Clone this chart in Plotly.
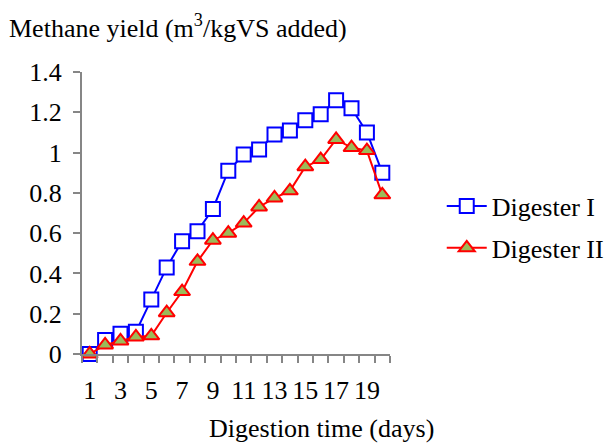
import plotly.graph_objects as go

days = list(range(1, 21))
digester_1 = [0.0, 0.07, 0.10, 0.11, 0.27, 0.43, 0.56, 0.61, 0.72, 0.91,
              0.99, 1.015, 1.09, 1.11, 1.16, 1.19, 1.26, 1.22, 1.10, 0.90]
digester_2 = [0.0, 0.045, 0.065, 0.085, 0.09, 0.205, 0.31, 0.46, 0.565, 0.60,
              0.65, 0.73, 0.775, 0.81, 0.93, 0.965, 1.065, 1.025, 1.01, 0.79]
x_tick_vals = [1, 3, 5, 7, 9, 11, 13, 15, 17, 19]
y_tick_vals = [0, 0.2, 0.4, 0.6, 0.8, 1.0, 1.2, 1.4]
y_tick_text = ["0", "0.2", "0.4", "0.6", "0.8", "1", "1.2", "1.4"]

FONT = "Liberation Serif"
F = dict(family=FONT, size=26, color="black")

fig = go.Figure()
fig.add_trace(go.Scatter(
    x=days, y=digester_1, name="Digester I", mode="lines+markers",
    legendgroup="a",
    line=dict(color="#0000FF", width=2),
    marker=dict(symbol="square", size=14, color="white",
                line=dict(color="#0000FF", width=2)),
    cliponaxis=False,
))
fig.add_trace(go.Scatter(
    x=days, y=digester_2, name="Digester II", mode="lines+markers",
    legendgroup="b",
    line=dict(color="#FF0000", width=2),
    marker=dict(symbol="triangle-up", size=14, color="#9BBB59",
                line=dict(color="#FF0000", width=2)),
    cliponaxis=False,
))

fig.update_layout(
    width=609, height=443,
    margin=dict(l=82, r=219, t=72, b=89, autoexpand=False),
    paper_bgcolor="white", plot_bgcolor="white",
    font=F,
    showlegend=True,
    legend=dict(x=1.168, y=0.45, xanchor="left", yanchor="middle",
                font=F, itemwidth=40, tracegroupgap=5,
                bgcolor="rgba(0,0,0,0)"),
    xaxis=dict(
        range=[0.5, 20.5], showgrid=False, zeroline=False,
        showline=True, linecolor="#868686", linewidth=2,
        tickmode="array", tickvals=x_tick_vals,
        ticktext=[str(v) for v in x_tick_vals],
        ticks="", ticklabelstandoff=12, tickfont=F,
        minor=dict(tickmode="linear", tick0=0.5, dtick=1, ticks="outside",
                   ticklen=7, tickcolor="#868686", tickwidth=1.5, showgrid=False),
    ),
    yaxis=dict(
        range=[0, 1.4], showgrid=False, zeroline=False,
        showline=True, linecolor="#868686", linewidth=2,
        tickmode="array", tickvals=y_tick_vals, ticktext=y_tick_text,
        ticks="outside", ticklen=7, tickcolor="#868686", tickwidth=1.5,
        ticklabelstandoff=6, tickfont=F,
    ),
    annotations=[
        dict(text="Methane yield (m<sup>3</sup>/kgVS added)",
             xref="paper", yref="paper", x=-0.245, y=1.16,
             xanchor="left", yanchor="middle", showarrow=False, font=F),
        dict(text="Digestion time (days)",
             xref="paper", yref="paper", x=0.405, y=-0.265,
             xanchor="left", yanchor="middle", showarrow=False, font=F),
    ],
)

fig.write_html("out.html")
